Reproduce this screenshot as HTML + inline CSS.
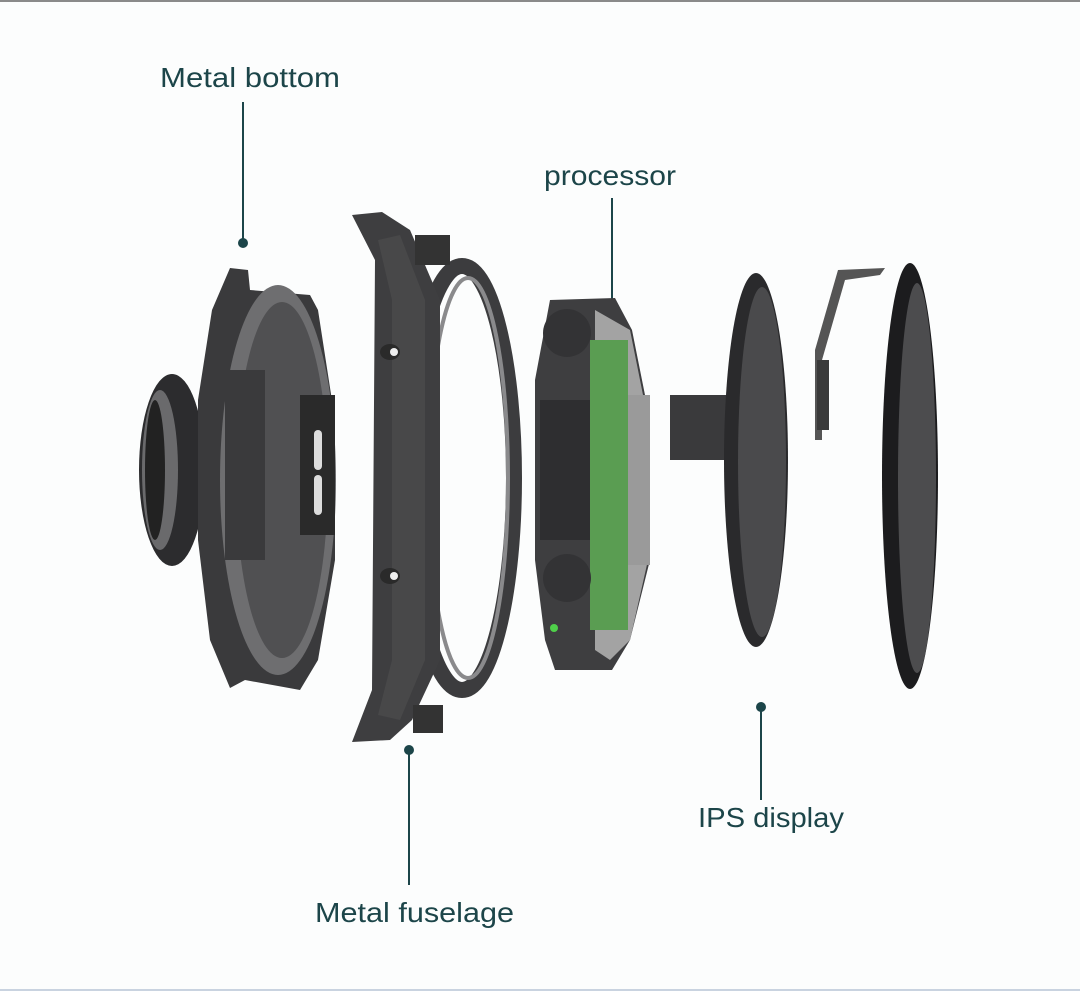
<!DOCTYPE html>
<html><head><style>
html,body{margin:0;padding:0;background:#fcfdfd;}
svg{display:block}
text{font-family:"Liberation Sans",sans-serif;font-size:28px;fill:#1c4549;}
</style></head><body>
<svg width="1080" height="991" viewBox="0 0 1080 991">
<rect x="0" y="0" width="1080" height="991" fill="#fcfdfd"/>
<rect x="0" y="0" width="1080" height="2" fill="#8a8a8a"/>
<rect x="0" y="989" width="1080" height="2" fill="#c9d3e0"/>

<!-- labels -->
<text x="160" y="87" textLength="180" lengthAdjust="spacingAndGlyphs">Metal bottom</text>
<line x1="243" y1="102" x2="243" y2="243" stroke="#1c4549" stroke-width="2"/>
<circle cx="243" cy="243" r="5" fill="#1c4549"/>
<text x="544" y="185" textLength="132" lengthAdjust="spacingAndGlyphs">processor</text>
<line x1="612" y1="198" x2="612" y2="338" stroke="#1c4549" stroke-width="2"/>
<circle cx="612" cy="338" r="5" fill="#1c4549"/>
<text x="315" y="922" textLength="199" lengthAdjust="spacingAndGlyphs">Metal fuselage</text>
<line x1="409" y1="750" x2="409" y2="885" stroke="#1c4549" stroke-width="2"/>
<circle cx="409" cy="750" r="5" fill="#1c4549"/>
<text x="698" y="827" textLength="146" lengthAdjust="spacingAndGlyphs">IPS display</text>
<line x1="761" y1="707" x2="761" y2="800" stroke="#1c4549" stroke-width="2"/>
<circle cx="761" cy="707" r="5" fill="#1c4549"/>

<!-- back lens -->
<ellipse cx="172" cy="470" rx="33" ry="96" fill="#2c2c2e"/>
<ellipse cx="160" cy="470" rx="18" ry="80" fill="#6a6a6c"/>
<ellipse cx="155" cy="470" rx="10" ry="70" fill="#222"/>

<!-- metal bottom -->
<path d="M230 268 L248 270 L250 290 L310 295 L318 310 L335 420 L335 560 L318 660 L300 690 L245 680 L230 688 L210 640 L198 540 L198 400 L212 310 Z" fill="#3a3a3c"/>
<ellipse cx="278" cy="480" rx="58" ry="195" fill="#6e6e70"/>
<ellipse cx="282" cy="480" rx="46" ry="178" fill="#505052"/>
<rect x="225" y="370" width="40" height="190" fill="#3a3a3c"/>
<rect x="300" y="395" width="35" height="140" fill="#2a2a2a"/>
<rect x="314" y="430" width="8" height="40" rx="4" fill="#ddd"/>
<rect x="314" y="475" width="8" height="40" rx="4" fill="#ddd"/>

<!-- fuselage -->
<ellipse cx="462" cy="478" rx="52" ry="212" fill="none" stroke="#3c3c3e" stroke-width="16"/>
<ellipse cx="468" cy="478" rx="40" ry="200" fill="none" stroke="#8a8a8c" stroke-width="4"/>
<path d="M352 215 L382 212 L410 230 L440 300 L440 660 L412 720 L390 740 L352 742 L372 690 L375 260 Z" fill="#3e3e40"/>
<path d="M378 240 L400 235 L425 300 L425 660 L400 720 L378 715 L392 660 L392 300 Z" fill="#484849"/>
<ellipse cx="390" cy="352" rx="10" ry="8" fill="#2a2a2a"/><circle cx="394" cy="352" r="4" fill="#eee"/>
<ellipse cx="390" cy="576" rx="10" ry="8" fill="#2a2a2a"/><circle cx="394" cy="576" r="4" fill="#eee"/>
<rect x="415" y="235" width="35" height="30" fill="#333"/>
<rect x="413" y="705" width="30" height="28" fill="#333"/>

<!-- processor -->
<path d="M550 300 L615 298 L632 330 L650 420 L650 560 L630 640 L612 670 L555 670 L545 640 L535 560 L535 380 Z" fill="#3e3e40"/>
<path d="M595 310 L630 330 L648 420 L648 560 L630 640 L610 660 L595 650 Z" fill="#a3a3a3"/>
<rect x="628" y="395" width="22" height="170" fill="#9a9a9a"/>
<rect x="590" y="340" width="38" height="290" fill="#5a9d52"/>
<rect x="540" y="400" width="50" height="140" fill="#2e2e30"/>
<circle cx="567" cy="333" r="24" fill="#333335"/>
<circle cx="567" cy="578" r="24" fill="#333335"/>
<circle cx="554" cy="628" r="4" fill="#4fd04a"/>

<!-- display -->
<rect x="670" y="395" width="70" height="65" fill="#3a3a3c"/>
<ellipse cx="756" cy="460" rx="32" ry="187" fill="#2a2a2c"/>
<ellipse cx="762" cy="462" rx="24" ry="175" fill="#4a4a4c"/>

<!-- glass -->
<path d="M838 270 L885 268 L880 275 L845 280 L822 360 L822 440 L815 440 L815 350 Z" fill="#555"/>
<rect x="817" y="360" width="12" height="70" fill="#3a3a3a"/>
<ellipse cx="910" cy="476" rx="28" ry="213" fill="#1c1c1e"/>
<ellipse cx="917" cy="478" rx="19" ry="195" fill="#4c4c4e"/>
</svg>
</body></html>
